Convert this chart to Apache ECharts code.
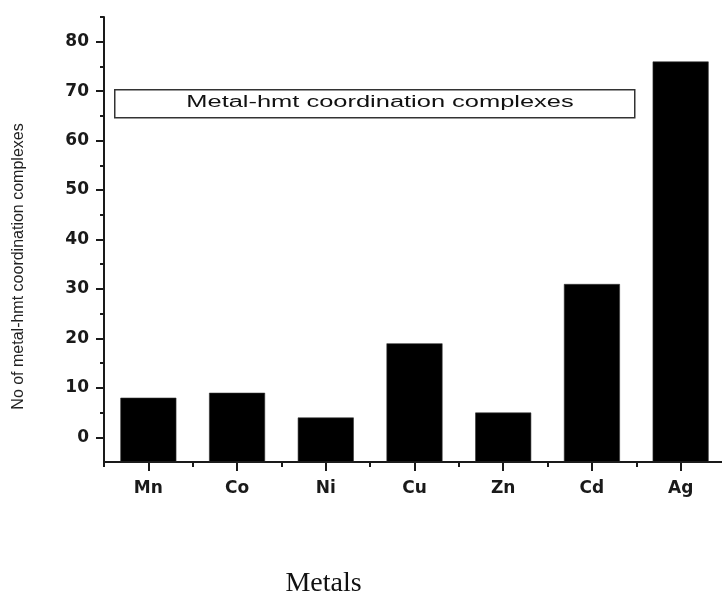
<!DOCTYPE html>
<html>
<head>
<meta charset="utf-8">
<script src="https://cdn.jsdelivr.net/npm/echarts@6/dist/echarts.min.js"></script>
<style>
  html, body { margin: 0; padding: 0; background: #fff; }
  #chart { width: 722px; height: 597px; }
</style>
</head>
<body>
<div id="chart"></div>
<script>
// metals on the x axis
var metals = ["Mn", "Co", "Ni", "Cu", "Zn", "Cd", "Ag"];
// number of metal-hmt coordination complexes
var complexCounts = [8, 9, 4, 19, 5, 31, 76];
// y ticks
var yMajorTicks = [0, 10, 20, 30, 40, 50, 60, 70, 80];
var yMinorTicks = [5, 15, 25, 35, 45, 55, 65, 75, 85];

var legendText = "Metal-hmt coordination complexes";
var yName = "No of metal-hmt coordination complexes";
var xName = "Metals";

var axisColor = "#1a1a1a";
var labelFont = {
  fontFamily: "DejaVu Sans",
  fontWeight: "bold",
  fontSize: 17,
  color: "#1a1a1a"
};

var chart = echarts.init(document.getElementById("chart"));

chart.setOption({
  animation: false,
  grid: { left: 104, top: 17, bottom: 135, width: 621, outerBoundsMode: "none", containLabel: false },
  xAxis: [
    {
      type: "category",
      data: metals,
      name: xName,
      nameLocation: "middle",
      nameGap: 108,
      nameTextStyle: {
        fontFamily: "Liberation Serif",
        fontSize: 28,
        color: "#111",
        padding: [0, 182, 0, 0]
      },
      axisLine: { onZero: false, lineStyle: { color: axisColor, width: 2 } },
      axisTick: { show: true, interval: 0, alignWithLabel: true, length: 9, lineStyle: { color: axisColor, width: 2 } },
      axisLabel: Object.assign({ margin: 18 }, labelFont),
      splitLine: { show: false }
    },
    {
      // boundary (minor) ticks between categories
      type: "category",
      data: metals,
      position: "bottom",
      axisLine: { show: false, onZero: false },
      axisTick: { show: true, interval: 0, length: 5, lineStyle: { color: axisColor, width: 2 } },
      axisLabel: { show: false },
      splitLine: { show: false }
    }
  ],
  yAxis: [
    {
      type: "value",
      min: -5,
      max: 85,
      startValue: -5,
      name: yName,
      nameLocation: "middle",
      nameRotate: 90,
      nameGap: 77,
      nameTextStyle: {
        fontFamily: "Liberation Sans",
        fontSize: 16,
        color: "#222",
        padding: [0, 54, 0, 0]
      },
      axisLine: { show: true, lineStyle: { color: axisColor, width: 2 } },
      axisTick: {
        show: true,
        length: 8,
        customValues: yMajorTicks,
        lineStyle: { color: axisColor, width: 2 }
      },
      axisLabel: Object.assign({ margin: 15, customValues: yMajorTicks }, labelFont),
      splitLine: { show: false }
    },
    {
      type: "value",
      min: -5,
      max: 85,
      position: "left",
      axisLine: { show: false },
      axisTick: {
        show: true,
        length: 4,
        customValues: yMinorTicks,
        lineStyle: { color: axisColor, width: 2 }
      },
      axisLabel: { show: false },
      splitLine: { show: false }
    }
  ],
  series: [
    {
      name: legendText,
      type: "bar",
      data: complexCounts,
      barWidth: 56,
      itemStyle: { color: "#000", borderColor: "#333", borderWidth: 0.6 }
    }
  ],
  graphic: [
    {
      type: "rect",
      left: 114,
      top: 89,
      shape: { width: 520, height: 28 },
      style: { fill: "#fff", stroke: "#333", lineWidth: 1.5 }
    },
    {
      type: "text",
      x: 380,
      y: 103,
      scaleX: 1.59,
      style: {
        text: legendText,
        fontFamily: "Liberation Sans",
        fontSize: 16,
        fill: "#111",
        align: "center",
        verticalAlign: "middle"
      }
    }
  ]
});
</script>
</body>
</html>
